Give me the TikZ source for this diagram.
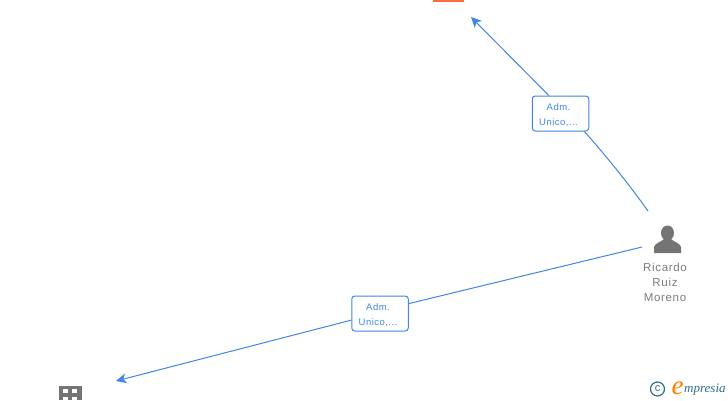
\documentclass[tikz,border=0pt]{standalone}
\usepackage{fontspec}
\setmainfont{Liberation Sans}
\newfontfamily\logofont{Liberation Serif}
\usetikzlibrary{arrows.meta}
\definecolor{linkblue}{HTML}{3F86E6}
\definecolor{icongrey}{HTML}{747474}
\definecolor{textgrey}{HTML}{7C7C7C}
\definecolor{hotorange}{HTML}{FF6A3D}
\definecolor{logoblue}{HTML}{2F6F8F}
\newcommand{\rolelabel}{\rule{0pt}{10pt}Adm.\hspace*{4pt}\\Unico,...\hspace*{4pt}}
\tikzset{
  rolebox/.style={draw=linkblue,fill=white,rounded corners=3pt,line width=1pt,minimum width=56.5pt,minimum height=35pt,inner sep=0pt,align=center,text=linkblue,font=\fontsize{9.5}{15}\selectfont\addfontfeature{LetterSpace=5}},
  link/.style={draw=linkblue,line width=1pt},
  linkhead/.style={link,-{Stealth[length=10.5pt,width=10pt,inset=3pt]}},
  personname/.style={align=center,text=textgrey,font=\fontsize{11.5}{15}\selectfont\addfontfeature{LetterSpace=6}}
}
\begin{document}
\begin{tikzpicture}[x=1pt,y=-1pt]
\useasboundingbox (0,0) rectangle (728,400);

\fill [hotorange] (433,-1) rectangle (464,2);

\node [rolebox] (top) at (560.5,113.5) {\rolelabel};
\node [rolebox] (low) at (380,313.5) {\rolelabel};

\coordinate (toptip) at (471,17);
\coordinate (lowtip) at (116,381);
\coordinate (topstart) at (648,211);
\coordinate (lowstart) at (642,247);

\draw [linkhead] (top.123) -- (toptip);
\draw [link] (topstart) .. controls (628,183) and (607,157) .. (top.-37);
\draw [link] (lowstart) -- (low.19);
\draw [linkhead] (low.193) -- (lowtip);

% person
\fill [icongrey] (667.5,233) ellipse (6.5 and 7.5);
\fill [icongrey] (654,253) -- (654,247) .. controls (655,243) and (661,242) .. (664,239) -- (671,239) .. controls (674,242) and (680,243) .. (681,247) -- (681,253) -- cycle;
\node [personname] (ricardo) at (665,282) {Ricardo\\Ruiz\\Moreno};

% building
\fill [icongrey] (59,386) rectangle (82,400);
\foreach \x in {63,72}
  \foreach \y in {389,397}
    \fill [white] (\x,\y) rectangle +(5,4);

% logo
\node [draw=logoblue,circle,line width=1.2pt,minimum size=14pt,inner sep=0pt,text=logoblue,font=\fontsize{11}{11}\selectfont] (copy) at (657.5,389) {c};
\node [text=orange,font=\logofont\fontsize{27}{27}\selectfont\itshape,inner sep=0pt] (e) at (677.5,388) {e};
\node [text=logoblue,font=\logofont\fontsize{13}{13}\selectfont\itshape,inner sep=0pt,anchor=west] (mpresia) at (684,390) {mpresia};
\end{tikzpicture}
\end{document}
